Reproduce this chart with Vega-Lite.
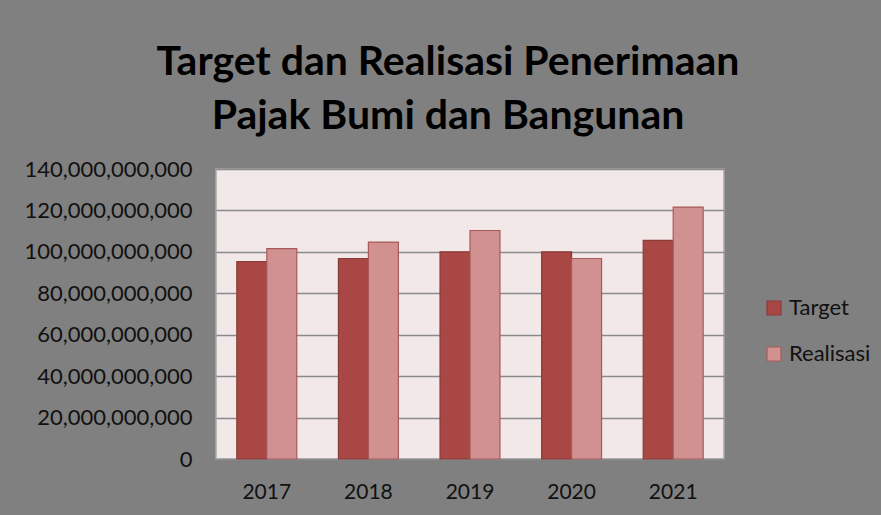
{
  "$schema": "https://vega.github.io/schema/vega-lite/v6.json",
  "width": 508,
  "height": 290,
  "autosize": {"type": "none"},
  "padding": {"left": 216, "top": 169, "right": 157, "bottom": 56},
  "background": "#808080",
  "title": {
    "text": ["Target dan Realisasi Penerimaan", "Pajak Bumi dan Bangunan"],
    "font": "Lato",
    "fontSize": 41,
    "fontWeight": "bold",
    "color": "#000000",
    "anchor": "middle",
    "frame": "group",
    "dx": -22,
    "offset": 20,
    "lineHeight": 54
  },
  "data": {
    "values": [
      {"year": "2017", "series": "Target", "value": 95300000000},
      {"year": "2017", "series": "Realisasi", "value": 101600000000},
      {"year": "2018", "series": "Target", "value": 96800000000},
      {"year": "2018", "series": "Realisasi", "value": 104700000000},
      {"year": "2019", "series": "Target", "value": 100000000000},
      {"year": "2019", "series": "Realisasi", "value": 110300000000},
      {"year": "2020", "series": "Target", "value": 100000000000},
      {"year": "2020", "series": "Realisasi", "value": 96800000000},
      {"year": "2021", "series": "Target", "value": 105500000000},
      {"year": "2021", "series": "Realisasi", "value": 121600000000}
    ]
  },
  "mark": {"type": "bar", "strokeWidth": 1.2},
  "encoding": {
    "x": {
      "field": "year",
      "type": "nominal",
      "scale": {"paddingInner": 0.41, "paddingOuter": 0.205},
      "axis": {
        "title": null,
        "labelAngle": 0,
        "labelFont": "Lato",
        "labelFontSize": 21,
        "labelColor": "#111111",
        "labelPadding": 22,
        "domain": false,
        "ticks": false,
        "grid": false
      }
    },
    "xOffset": {"field": "series", "type": "nominal", "sort": ["Target", "Realisasi"]},
    "y": {
      "field": "value",
      "type": "quantitative",
      "scale": {"domain": [0, 140000000000], "nice": false},
      "axis": {
        "title": null,
        "values": [0, 20000000000, 40000000000, 60000000000, 80000000000, 100000000000, 120000000000, 140000000000],
        "format": ",d",
        "labelFont": "Lato",
        "labelFontSize": 22,
        "labelColor": "#111111",
        "labelPadding": 24,
        "domain": false,
        "ticks": false,
        "gridColor": "#8a8a8a",
        "gridWidth": 1.5
      }
    },
    "color": {
      "field": "series",
      "type": "nominal",
      "sort": ["Target", "Realisasi"],
      "scale": {"domain": ["Target", "Realisasi"], "range": ["#A94745", "#D09190"]},
      "legend": {
        "title": null,
        "orient": "none",
        "legendX": 547,
        "legendY": 128,
        "symbolType": "square",
        "symbolSize": 196,
        "symbolStrokeWidth": 1.2,
        "labelFont": "Lato",
        "labelFontSize": 22,
        "labelColor": "#111111",
        "labelOffset": 4,
        "rowPadding": 24
      }
    },
    "stroke": {
      "field": "series",
      "type": "nominal",
      "sort": ["Target", "Realisasi"],
      "scale": {"domain": ["Target", "Realisasi"], "range": ["#8B3A3A", "#A85A5A"]},
      "legend": null
    }
  },
  "config": {
    "view": {"fill": "#F2E8E8", "stroke": "#a8a8a8", "strokeWidth": 1.5}
  }
}
